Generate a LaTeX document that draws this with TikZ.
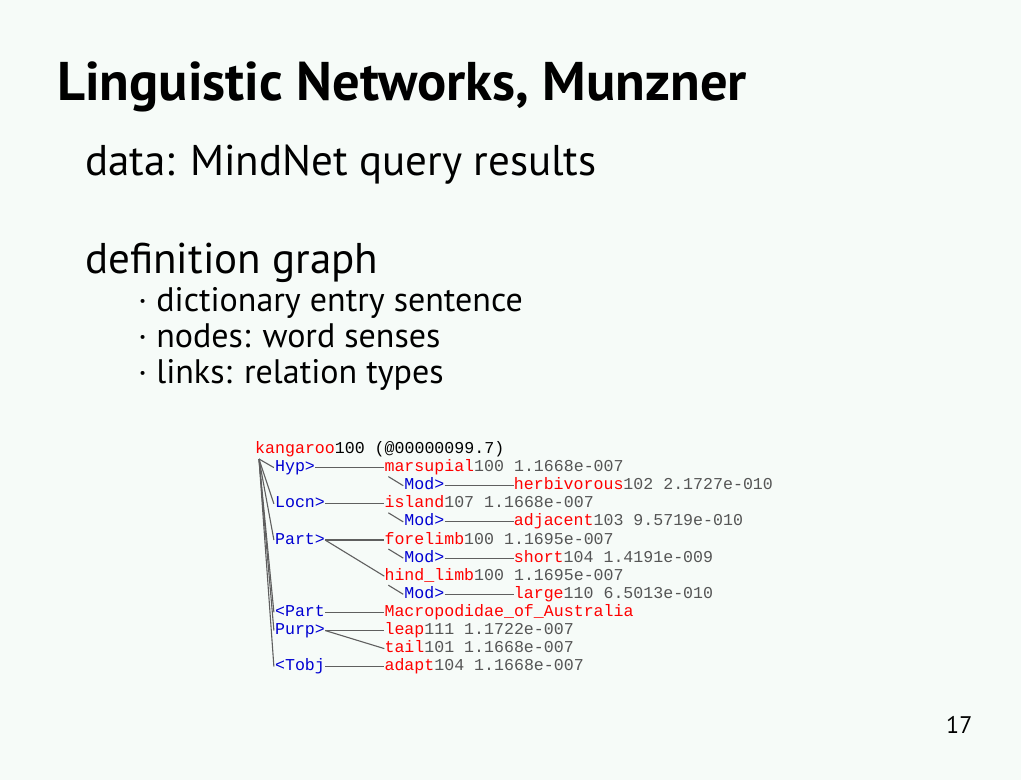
\documentclass[tikz,border=0pt]{standalone}
\usepackage{fontspec}
\setmainfont{PT Sans}
\newfontfamily\monofont{Liberation Mono}
\definecolor{bg}{RGB}{246,251,248}
\definecolor{wred}{RGB}{255,0,0}
\definecolor{rblue}{RGB}{0,0,210}
\definecolor{numgray}{RGB}{85,85,85}
\definecolor{linegray}{RGB}{95,95,95}
\tikzset{
  mono/.style={font=\monofont\fontsize{16.6}{18}\selectfont, inner sep=0pt, anchor=west, text height=9pt, text depth=1pt},
  rel/.style={mono, text=rblue},
  word/.style={mono, text=numgray},
  link/.style={draw=linegray, line width=1.1pt},
  slidetext/.style={anchor=base west, inner sep=0pt, text=black}
}
\newcommand{\w}[1]{\textcolor{wred}{#1}}
\begin{document}
\begin{tikzpicture}[x=1pt,y=-1pt]
\fill[bg] (0,0) rectangle (1021,780);
\useasboundingbox (0,0) rectangle (1021,780);
% slide text
\node[slidetext, font=\fontsize{54.5}{60}\selectfont\bfseries] (title) at (57,100) {Linguistic Networks, Munzner};
\node[slidetext, font=\fontsize{43}{48}\selectfont] (data) at (85,175) {data: MindNet query results};
\node[slidetext, font=\fontsize{43}{48}\selectfont] (def) at (85,273) {definition graph};
\node[slidetext, font=\fontsize{34}{40}\selectfont] (b1) at (138,311) {\textperiodcentered\ dictionary entry sentence};
\node[slidetext, font=\fontsize{34}{40}\selectfont] (b2) at (138,347) {\textperiodcentered\ nodes: word senses};
\node[slidetext, font=\fontsize{34}{40}\selectfont] (b3) at (138,383) {\textperiodcentered\ links: relation types};
\node[slidetext, font=\fontsize{24}{28}\selectfont] (page) at (946,733) {17};
% graph
\def\cw{9.95}
\def\ry#1{449.5+18.1*#1}
\node[mono, text=black] (kang) at (255,{\ry{0}}) {\w{kangaroo}100 (@00000099.7)};
\node[rel] (hyp) at ({255+2*\cw},{\ry{1}}) {Hyp>};
\node[word] (mars) at ({255+13*\cw},{\ry{1}}) {\w{marsupial}100 1.1668e-007};
\node[rel] (mod1) at ({255+15*\cw},{\ry{2}}) {Mod>};
\node[word] (herb) at ({255+26*\cw},{\ry{2}}) {\w{herbivorous}102 2.1727e-010};
\node[rel] (locn) at ({255+2*\cw},{\ry{3}}) {Locn>};
\node[word] (isl) at ({255+13*\cw},{\ry{3}}) {\w{island}107 1.1668e-007};
\node[rel] (mod2) at ({255+15*\cw},{\ry{4}}) {Mod>};
\node[word] (adj) at ({255+26*\cw},{\ry{4}}) {\w{adjacent}103 9.5719e-010};
\node[rel] (part) at ({255+2*\cw},{\ry{5}}) {Part>};
\node[word] (fore) at ({255+13*\cw},{\ry{5}}) {\w{forelimb}100 1.1695e-007};
\node[rel] (mod3) at ({255+15*\cw},{\ry{6}}) {Mod>};
\node[word] (short) at ({255+26*\cw},{\ry{6}}) {\w{short}104 1.4191e-009};
\node[word] (hind) at ({255+13*\cw},{\ry{7}}) {\w{hind\_limb}100 1.1695e-007};
\node[rel] (mod4) at ({255+15*\cw},{\ry{8}}) {Mod>};
\node[word] (large) at ({255+26*\cw},{\ry{8}}) {\w{large}110 6.5013e-010};
\node[rel] (ipart) at ({255+2*\cw},{\ry{9}}) {<Part};
\node[word] (macro) at ({255+13*\cw},{\ry{9}}) {\w{Macropodidae\_of\_Australia}};
\node[rel] (purp) at ({255+2*\cw},{\ry{10}}) {Purp>};
\node[word] (leap) at ({255+13*\cw},{\ry{10}}) {\w{leap}111 1.1722e-007};
\node[word] (tail) at ({255+13*\cw},{\ry{11}}) {\w{tail}101 1.1668e-007};
\node[rel] (tobj) at ({255+2*\cw},{\ry{12}}) {<Tobj};
\node[word] (adapt) at ({255+13*\cw},{\ry{12}}) {\w{adapt}104 1.1668e-007};
\coordinate (root) at (259,459);
% fan from root
\foreach \t in {hyp,locn,part,ipart,purp,tobj}
  \draw[link] (root) -- ([xshift=-1pt]\t.west);
% horizontal links
\draw[link] (hyp.east) -- (mars.west);
\draw[link] (locn.east) -- (isl.west);
\draw[link] (part.east) -- (fore.west);
\draw[link] (part.east) -- (hind.west);
\draw[link] (ipart.east) -- (macro.west);
\draw[link] (purp.east) -- (leap.west);
\draw[link] (purp.east) -- (tail.west);
\draw[link] (tobj.east) -- (adapt.west);
% Mod links
\foreach \a/\m/\b in {mars/mod1/herb, isl/mod2/adj, fore/mod3/short, hind/mod4/large}{
  \draw[link] ([shift={(4pt,-9pt)}]\a.west) -- ([xshift=-1pt]\m.west);
  \draw[link] (\m.east) -- (\b.west);
}
\end{tikzpicture}
\end{document}
